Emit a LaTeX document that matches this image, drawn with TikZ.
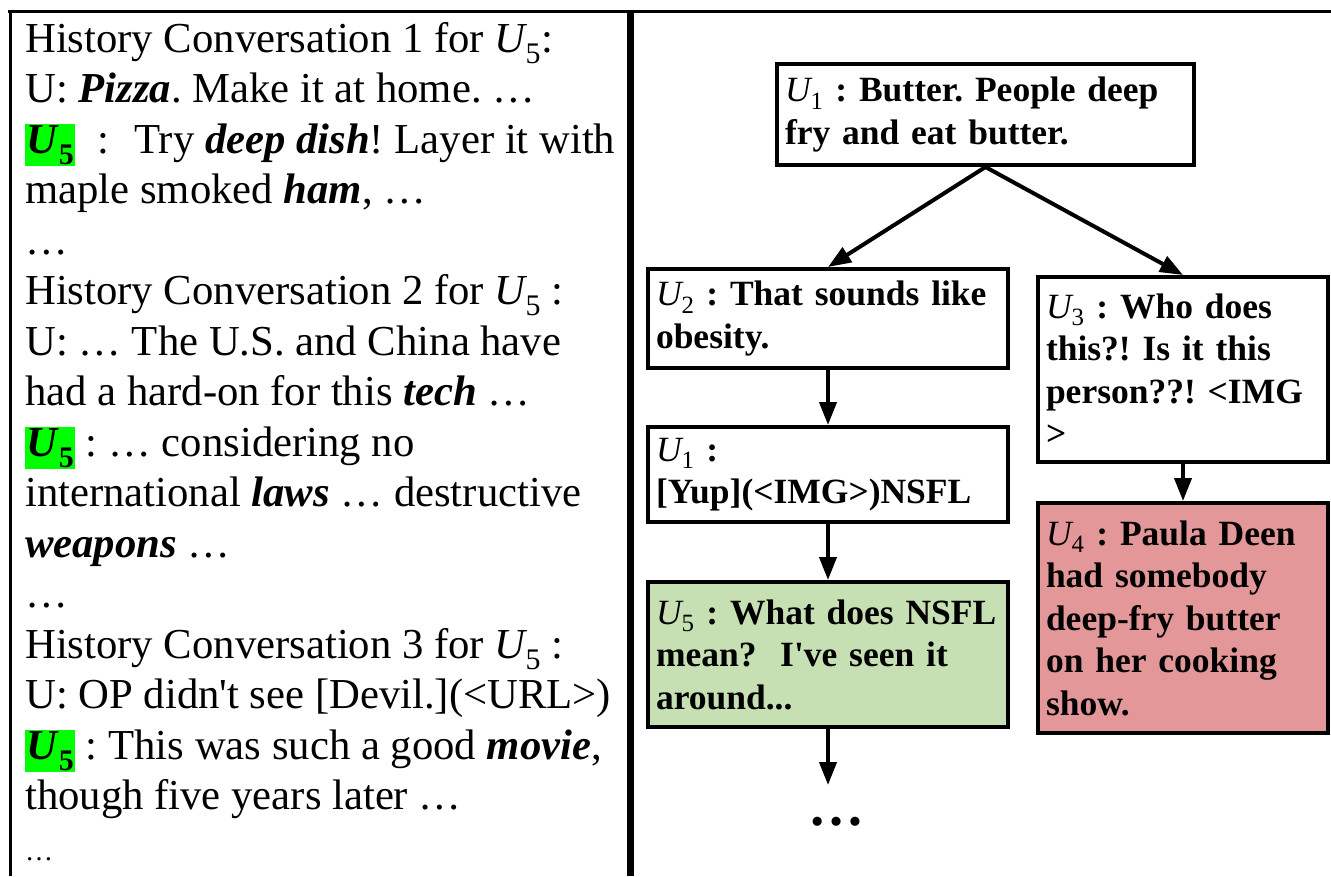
\documentclass[tikz,border=0pt]{standalone}
\usepackage{fontspec}
\setmainfont{Liberation Serif}
\usepackage{xcolor}
\usepackage{tikz}
\usetikzlibrary{arrows.meta,positioning}
\frenchspacing
\definecolor{hlgreen}{HTML}{00FF00}
\definecolor{okgreen}{HTML}{C6E0B4}
\definecolor{badred}{HTML}{E39798}
\newcommand{\uu}[1]{{\mdseries\itshape U\textsubscript{\upshape #1}}}
\newcommand{\hlU}{{\setlength{\fboxsep}{1pt}\colorbox{hlgreen}{\textbf{\textit{U}}\textsubscript{\textbf{5}}}}}
\tikzset{
  hist/.style={anchor=north west, align=left, inner sep=0pt,
    font=\fontsize{42.7}{50.5}\selectfont},
  post/.style={rectangle, draw=black, line width=4pt, align=left,
    inner xsep=8pt, inner ysep=0pt, font=\fontsize{35.5}{42.5}\selectfont\bfseries},
  tr/.style={-{Triangle[length=23pt,width=17pt]}, line width=4pt},
  divider/.style={line width=3pt},
}

\begin{document}
\begin{tikzpicture}[x=1pt, y=-1pt]
  \useasboundingbox (0,0) rectangle (1331,876);
  % frame
  \draw[divider] (8,11) -- (1331,11);
  \draw[divider] (10,11) -- (10,876);
  \draw[divider, line width=7pt] (630,11) -- (630,876);
  % history of U5
  \node[hist] (hist) at (25,22) {History Conversation 1 for \uu{5}:\\
    U: \textbf{\textit{Pizza}}. Make it at home. \dots\\
    \hlU\hspace{22pt}:\hspace{25pt}Try \textbf{\textit{deep dish}}! Layer it with\\
    maple smoked \textbf{\textit{ham}}, \dots\\
    \dots\\
    History Conversation 2 for \uu{5} :\\
    U: \dots{} The U.S. and China have\\
    had a hard-on for this \textbf{\textit{tech}} \dots\\
    \hlU{} : \dots{} considering no\\
    international \textbf{\textit{laws}} \dots{} destructive\\
    \textbf{\textit{weapons}} \dots\\
    \dots\\
    History Conversation 3 for \uu{5} :\\
    U: OP didn\textquotesingle t see [Devil.](<URL>)\\
    \hlU{} : This was such a good \textbf{\textit{movie}},\\
    though five years later \dots\\
    {\fontsize{28}{30}\selectfont\dots}};
  % thread
  \node[post, text width=401pt, minimum height=101pt] (u1) at (985.5,114.5)
    {\uu{1} : Butter. People deep\\fry and eat butter.};
  \node[post, text width=344pt, minimum height=99pt] (u2) at (828,318.5)
    {\uu{2} : That sounds like\\obesity.};
  \node[post, text width=344pt, minimum height=95pt] (u1b) at (828,474.5)
    {\uu{1} :\\{}[Yup](<IMG>)NSFL};
  \node[post, text width=344pt, minimum height=145pt, fill=okgreen] (u5) at (828,654.5)
    {\uu{5} : What does NSFL\\mean?~ I\textquotesingle ve seen it\\around...};
  \node[post, text width=274pt, minimum height=185pt] (u3) at (1183,369.5)
    {\uu{3} : Who does\\this?! Is it this\\person??! <IMG\\>};
  \node[post, text width=274pt, minimum height=230pt, fill=badred] (u4) at (1183,618)
    {\uu{4} : Paula Deen\\had somebody\\deep-fry butter\\on her cooking\\show.};
  \node[font=\fontsize{56}{60}\selectfont\bfseries] (more) at (836,822) {\dots};
  \coordinate (tail) at (828,785);
  \draw[tr] (u1.south) -- (u2.north);
  \draw[tr] (u1.south) -- (u3.north);
  \draw[tr] (u2) -- (u1b);
  \draw[tr] (u1b) -- (u5);
  \draw[tr] (u5) -- (tail);
  \draw[tr] (u3) -- (u4);
\end{tikzpicture}
\end{document}
